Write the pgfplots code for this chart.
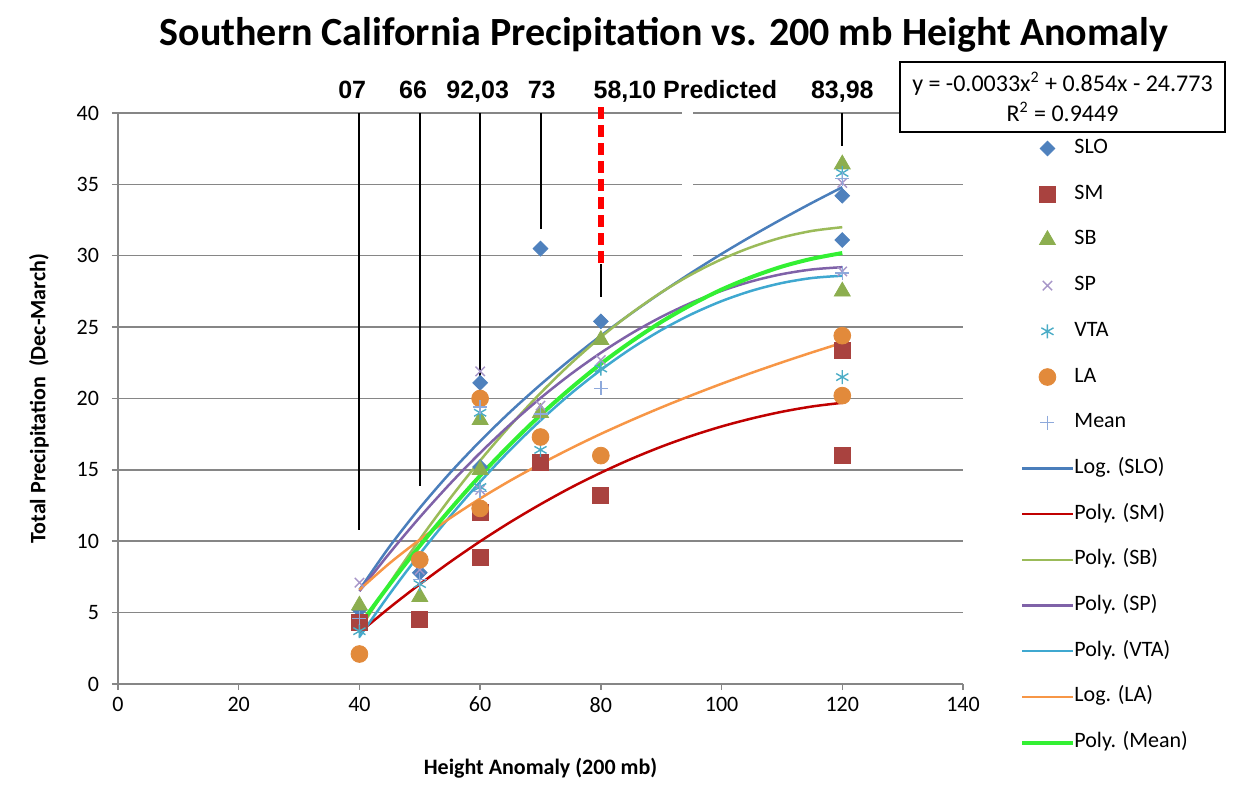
\documentclass[border=0pt]{standalone}
\usepackage{fontspec}
\setmainfont{Carlito}
\newfontfamily\annfont{Liberation Sans}
\usepackage{pgfplots}
\pgfplotsset{compat=1.18}
\definecolor{cSLO}{HTML}{4F81BD}
\definecolor{cSM}{HTML}{A9423F}
\definecolor{cSB}{HTML}{8CAE4F}
\definecolor{cSP}{HTML}{A796C8}
\definecolor{cVTA}{HTML}{4BACC6}
\definecolor{cLA}{HTML}{E28A3B}
\definecolor{cMean}{HTML}{8EA9DB}
\definecolor{lSLO}{HTML}{4A7EBB}
\definecolor{lSM}{HTML}{C00000}
\definecolor{lSB}{HTML}{9BBB59}
\definecolor{lSP}{HTML}{7F62A8}
\definecolor{lVTA}{HTML}{3FA8D0}
\definecolor{lLA}{HTML}{F79646}
\definecolor{lMean}{HTML}{33F033}
\definecolor{gridc}{HTML}{868686}
\begin{document}
\begin{tikzpicture}
\path[use as bounding box] (0,0) rectangle (619pt,406pt);
\node[font=\bfseries\fontsize{20}{24}\selectfont] at (332pt,388.5pt) {Southern California Precipitation vs. 200 mb Height Anomaly};
\begin{axis}[
 at={(59pt,64pt)}, anchor=south west,
 width=422.5pt, height=285.5pt, scale only axis,
 xmin=0, xmax=140, ymin=0, ymax=40,
 xtick={0,20,...,140}, ytick={0,5,...,40},
 axis x line*=bottom, axis y line*=left,
 axis line style={gridc, line width=0.75pt, -},
 tick align=outside, major tick length=3pt,
 tick style={gridc, line width=0.75pt},
 ymajorgrids, grid style={gridc, line width=0.75pt},
 /pgf/number format/assume math mode=true,
 ticklabel style={font=\fontsize{11}{13}\selectfont, text=black},
 yticklabel style={xshift=-3pt},
 xlabel={Height Anomaly (200 mb)},
 ylabel={Total Precipitation\ \ (Dec-March)},
 every axis x label/.style={at={(axis description cs:0.5,-0.147)}, anchor=center, font=\bfseries\fontsize{11}{13}\selectfont},
 every axis y label/.style={at={(axis description cs:-0.0935,0.5)}, rotate=90, anchor=center, font=\bfseries\fontsize{11}{13}\selectfont},
 clip=false,
 legend image code/.code={\draw[mark repeat=2,mark phase=2,#1] plot coordinates {(0pt,0pt)(12.5pt,0pt)(25pt,0pt)};},
 legend style={at={(axis description cs:1.0675,0.956)}, anchor=north west, draw=none, fill=none, inner sep=0pt, row sep=12.85pt, column sep=0pt, nodes={inner sep=0pt, text height=7.5pt, text depth=2.5pt, font=\fontsize{11}{13}\selectfont}},
 legend cell align=left,
]
% annotation leader lines
\addplot[white, line width=5.5pt, forget plot] coordinates {(94.35,29) (94.35,40.5)};
\addplot[black, line width=1pt, forget plot] coordinates {(40,40) (40,10.8)};
\addplot[black, line width=1pt, forget plot] coordinates {(50,40) (50,13.9)};
\addplot[black, line width=1pt, forget plot] coordinates {(60,40) (60,19.4)};
\addplot[black, line width=1pt, forget plot] coordinates {(70,40) (70,31.9)};
\addplot[red, line width=3pt, dash pattern=on 6pt off 3pt, forget plot] coordinates {(80,40.4) (80,29.4)};
\addplot[black, line width=1pt, forget plot] coordinates {(80,29.4) (80,27.1)};
\addplot[black, line width=1pt, forget plot] coordinates {(120,40) (120,37.7)};
% markers
\addplot[only marks, mark=square*, mark size=2.6pt, mark options={rotate=45, fill=cSLO, draw=cSLO}] coordinates {(40,5.2) (50,7.8) (60,21.1) (60,15.2) (70,30.5) (80,25.4) (120,34.2) (120,31.1)};
\addlegendentry{SLO}
\addplot[only marks, mark=square*, mark size=4pt, mark options={fill=cSM, draw=cSM}] coordinates {(40,4.3) (50,4.5) (60,12.0) (60,8.9) (70,15.5) (80,13.2) (120,23.4) (120,16.0)};
\addlegendentry{SM}
\addplot[only marks, mark=triangle*, mark size=4.6pt, mark options={fill=cSB, draw=cSB}] coordinates {(40,5.5) (50,6.1) (60,18.5) (60,15.0) (70,19.0) (80,24.1) (120,36.4) (120,27.5)};
\addlegendentry{SB}
\addplot[only marks, mark=x, mark size=3.3pt, mark options={draw=cSP, line width=0.7pt}] coordinates {(40,7.1) (50,8.0) (60,21.9) (60,13.6) (70,19.5) (80,22.7) (120,35.1) (120,28.9)};
\addlegendentry{SP}
\addplot[only marks, mark=asterisk, mark size=3.5pt, mark options={draw=cVTA, line width=0.7pt}] coordinates {(40,3.7) (50,7.0) (60,19.0) (60,13.8) (70,16.4) (80,22.1) (120,35.8) (120,21.5)};
\addlegendentry{VTA}
\addplot[only marks, mark=*, mark size=4.2pt, mark options={fill=cLA, draw=cLA}] coordinates {(40,2.1) (50,8.7) (60,20.0) (60,12.3) (70,17.3) (80,16.0) (120,24.4) (120,20.2)};
\addlegendentry{LA}
\addplot[only marks, mark=+, mark size=3.5pt, mark options={draw=cMean, line width=0.7pt}] coordinates {(40,4.6) (50,7.3) (60,19.4) (60,13.5) (70,18.9) (80,20.7) (120,35.4) (120,28.8)};
\addlegendentry{Mean}
% trend lines
\addplot[lSLO, line width=1.25pt, no marks, smooth] coordinates {(40,6.60) (45,9.63) (50,12.33) (55,14.78) (60,17.01) (65,19.07) (70,20.97) (75,22.74) (80,24.40) (85,25.95) (90,27.42) (95,28.81) (100,30.13) (105,31.38) (110,32.57) (115,33.71) (120,34.80)};
\addlegendentry{Log. (SLO)}
\addplot[lSM, line width=1.25pt, no marks, smooth] coordinates {(40,3.60) (45,5.35) (50,6.99) (55,8.54) (60,9.99) (65,11.34) (70,12.59) (75,13.75) (80,14.80) (85,15.76) (90,16.62) (95,17.38) (100,18.04) (105,18.60) (110,19.07) (115,19.44) (120,19.70)};
\addlegendentry{Poly. (SM)}
\addplot[lSB, line width=1.25pt, no marks, smooth] coordinates {(40,3.80) (45,7.06) (50,10.13) (55,12.99) (60,15.65) (65,18.11) (70,20.38) (75,22.44) (80,24.30) (85,25.96) (90,27.43) (95,28.69) (100,29.75) (105,30.61) (110,31.28) (115,31.74) (120,32.00)};
\addlegendentry{Poly. (SB)}
\addplot[lSP, line width=1.25pt, no marks, smooth] coordinates {(40,6.50) (45,9.17) (50,11.68) (55,14.02) (60,16.19) (65,18.19) (70,20.03) (75,21.70) (80,23.20) (85,24.54) (90,25.71) (95,26.71) (100,27.54) (105,28.21) (110,28.71) (115,29.04) (120,29.20)};
\addlegendentry{Poly. (SP)}
\addplot[lVTA, line width=1.25pt, no marks, smooth] coordinates {(40,3.30) (45,6.30) (50,9.11) (55,11.73) (60,14.16) (65,16.41) (70,18.46) (75,20.33) (80,22.00) (85,23.49) (90,24.79) (95,25.90) (100,26.82) (105,27.55) (110,28.09) (115,28.44) (120,28.60)};
\addlegendentry{Poly. (VTA)}
\addplot[lLA, line width=1.25pt, no marks, smooth] coordinates {(40,6.60) (45,8.46) (50,10.11) (55,11.61) (60,12.99) (65,14.25) (70,15.41) (75,16.50) (80,17.52) (85,18.47) (90,19.37) (95,20.22) (100,21.03) (105,21.80) (110,22.53) (115,23.23) (120,23.90)};
\addlegendentry{Log. (LA)}
\addplot[lMean, line width=2pt, no marks, smooth] coordinates {(40,4.11) (45,6.97) (50,9.68) (55,12.21) (60,14.59) (65,16.79) (70,18.84) (75,20.71) (80,22.43) (85,23.97) (90,25.36) (95,26.57) (100,27.63) (105,28.51) (110,29.24) (115,29.79) (120,30.19)};
\addlegendentry{Poly. (Mean)}
% labels
\node[anchor=base, font=\annfont\bfseries\fontsize{12.5}{14}\selectfont] at (axis cs:38.8,41.05) {07};
\node[anchor=base, font=\annfont\bfseries\fontsize{12.5}{14}\selectfont] at (axis cs:48.9,41.05) {66};
\node[anchor=base, font=\annfont\bfseries\fontsize{12.5}{14}\selectfont] at (axis cs:59.6,41.05) {92,03};
\node[anchor=base, font=\annfont\bfseries\fontsize{12.5}{14}\selectfont] at (axis cs:70.2,41.05) {73};
\node[anchor=base, font=\annfont\bfseries\fontsize{12.5}{14}\selectfont] at (axis cs:94.0,41.05) {58,10 Predicted};
\node[anchor=base, font=\annfont\bfseries\fontsize{12.5}{14}\selectfont] at (axis cs:120.0,41.05) {83,98};
\end{axis}
\node[draw=black, line width=1pt, fill=white, minimum width=162.5pt, minimum height=35pt, align=center, inner sep=0pt, font=\fontsize{12}{14}\selectfont] at (531.25pt,357.5pt) {y = -0.0033x\textsuperscript{2} + 0.854x - 24.773\\[1pt]R\textsuperscript{2} = 0.9449};
\end{tikzpicture}
\end{document}
